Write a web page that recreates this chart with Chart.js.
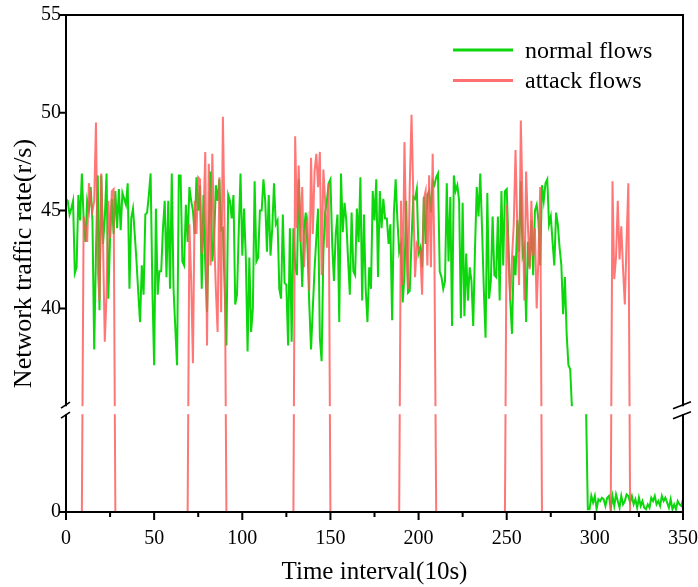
<!DOCTYPE html>
<html>
<head>
<meta charset="utf-8">
<title>Network traffic rate</title>
<script src="https://cdn.jsdelivr.net/npm/chart.js@4.4.0/dist/chart.umd.min.js"></script>
<style>
  html, body { margin: 0; padding: 0; background: #fff; }
  #wrap { width: 698px; height: 587px; position: relative; }
</style>
</head>
<body>
<div id="wrap"><canvas id="trafficChart"></canvas></div>
<script>
// Data (perkiraan), satu titik per interval waktu

// normal flows, x = 0..350 (null = di dalam patahan sumbu, tidak tampak)
const normalFlows = [
  45.6, 45.5, 44.8, 45.1, 45.5, 41.8, 42.1, 45.8, 44.5, 46.9,
  44.6, 43.4, 45.5, 45.0, 46.2, 44.5, 37.9, 42.9, 46.8, 39.9,
  46.8, 43.3, 44.6, 46.9, 40.5, 43.6, 45.6, 43.8, 46.0, 44.1,
  46.1, 44.0, 45.9, 45.6, 45.3, 46.4, 41.0, 44.6, 45.1, 43.8,
  42.4, 40.8, 39.3, 42.2, 40.7, 44.8, 44.9, 45.8, 46.9, 41.0,
  37.1, 45.1, 40.7, 41.9, 41.9, 44.1, 45.5, 41.6, 45.5, 41.0,
  46.9, 41.0, 39.0, 37.1, 46.8, 46.8, 42.4, 42.2, 45.3, 43.4,
  46.2, 45.5, 45.0, 43.8, 46.7, 45.0, 46.3, 41.0, 45.8, 42.2,
  39.8, 44.1, 47.0, 42.4, 43.4, 46.3, 45.5, 46.6, 44.0, 44.1,
  41.0, 38.1, 45.8, 45.5, 44.6, 45.8, 40.2, 40.7, 44.0, 46.9,
  42.7, 45.1, 42.6, 37.8, 42.6, 38.8, 40.0, 46.5, 42.4, 42.6,
  45.0, 45.0, 46.6, 45.5, 42.9, 45.8, 42.7, 44.1, 46.4, 44.3,
  44.5, 41.0, 40.5, 44.8, 41.3, 41.2, 38.1, 44.1, 38.3, 44.1,
  42.2, 41.7, 46.6, 43.7, 41.1, 44.0, 44.9, 43.1, 40.2, 37.9,
  40.0, 42.0, 43.6, 45.1, 38.5, 37.3, 42.9, 44.9, 45.5, 46.4,
  46.6, 43.3, 41.4, 43.8, 44.8, 39.3, 46.9, 43.9, 45.4, 44.5,
  42.5, 40.7, 44.9, 41.9, 41.7, 45.1, 43.4, 46.7, 40.4, 44.8,
  41.0, 39.3, 42.1, 41.0, 46.0, 44.5, 46.6, 41.6, 46.0, 44.1,
  45.6, 44.6, 44.6, 43.3, 44.3, 39.4, 44.9, 46.6, 44.5, 42.9,
  43.3, 40.3, 41.7, 45.5, 40.8, 40.9, 43.5, 45.7, 45.6, 46.1,
  42.8, 43.1, 42.1, 45.7, 43.3, 45.8, 46.0, 44.9, 46.5, 46.3,
  46.7, 46.9, 41.9, 41.6, 41.0, 41.4, 46.4, 42.4, 45.7, 39.1,
  46.8, 46.0, 46.3, 45.5, 39.5, 45.4, 39.6, 42.8, 40.4, 42.1,
  41.4, 39.1, 43.0, 46.2, 44.7, 46.9, 44.1, 41.0, 38.5, 45.9,
  40.5, 41.4, 44.7, 41.7, 41.6, 44.7, 40.4, 46.0, 42.2, 46.0,
  46.1, 43.3, 40.4, 38.7, 42.7, 41.7, 44.5, 42.9, 46.5, 42.7,
  43.1, 39.3, 43.4, 42.1, 44.5, 41.7, 45.0, 45.3, 44.5, 42.2,
  46.3, 45.5, 46.4, 46.6, 44.3, 44.7, 43.4, 42.2, 44.9, 44.3,
  43.1, 42.2, 39.7, 41.6, 38.7, 37.1, 36.9, 30.0, null, null,
  null, null, null, null, null, 30.0, 0.14, 0.14, 0.82, 0.48,
  0.82, 0.14, 0.65, 0.56, 0.73, 0.65, 0.31, 0.73, 0.82, 0.14,
  0.82, 0.31, 0.90, 0.56, 0.22, 0.82, 0.39, 0.56, 0.90, 0.82,
  0.48, 0.82, 0.39, 0.65, 0.22, 0.73, 0.31, 0.56, 0.22, 0.14,
  0.39, 0.22, 0.73, 0.56, 0.82, 0.39, 0.56, 0.31, 0.82, 0.56,
  0.73, 0.48, 0.22, 0.65, 0.14, 0.39, 0.14, 0.56, 0.39, 0.31,
  0.65
];

// attack flows: di luar jendela serangan nilainya 0
const attackStarts = [10, 70, 130, 190, 250, 310];
const attack1 = [44.7, 44.2, 43.4, 46.4, 45.5, 45.0, 45.5, 49.5, 42.0, 40.4, 46.9, 43.4, 38.3, 40.7, 45.5, 43.6, 46.0, 46.1];
const attack2 = [44.3, 41.5, 37.2, 45.5, 43.8, 46.7, 46.6, 42.8, 44.5, 48.0, 38.1, 47.4, 42.2, 47.9, 43.8, 41.0, 38.8, 46.7, 39.8, 49.8, 43.9];
const attack3 = [48.8, 44.1, 47.3, 43.4, 46.2, 42.1, 44.0, 44.5, 40.9, 47.7, 43.8, 47.0, 47.9, 46.2, 48.0, 41.7, 47.1, 45.5, 43.1, 46.4];
const attack4 = [45.5, 41.2, 48.5, 43.4, 41.0, 46.3, 49.9, 45.8, 41.6, 43.3, 43.1, 42.8, 40.7, 45.6, 46.0, 42.2, 46.8, 42.1, 47.9, 42.6];
const attack5 = [45.3, 42.5, 40.4, 42.6, 44.3, 48.1, 44.1, 41.2, 49.6, 45.3, 40.4, 47.0, 44.3, 42.0, 45.5, 42.7, 44.1, 40.0, 42.6, 46.2];
const attack6 = [46.5, 41.5, 42.6, 45.5, 42.5, 44.2, 42.0, 40.2, 43.5, 46.4];
const attackWindows = [attack1, attack2, attack3, attack4, attack5, attack6];

// sumbu
const xMax = 350;
const xTickStep = 50;
const yMax = 55;
const yTickValues = [0, 40, 45, 50, 55];
const BREAK_LOW = 5;    // bagian bawah 0..5
const BREAK_HIGH = 35;  // bagian atas 35..55
const GAP_PX = 8;

const seriesLabels = ['normal flows', 'attack flows'];
const GREEN = 'rgb(12, 214, 12)';
const RED = 'rgba(255, 88, 88, 0.82)';
const FONT = "'Liberation Serif', 'Times New Roman', serif";

// Skala linear dengan patahan (broken axis)
class BrokenLinearScale extends Chart.LinearScale {
  _unitPx() {
    const units = BREAK_LOW + (this.max - BREAK_HIGH);
    return (this.bottom - this.top - GAP_PX) / units;
  }
  getPixelForValue(value) {
    const s = this._unitPx();
    if (value <= BREAK_LOW) return this.bottom - value * s;
    const lowTop = this.bottom - BREAK_LOW * s;
    if (value < BREAK_HIGH) {
      return lowTop - (value - BREAK_LOW) / (BREAK_HIGH - BREAK_LOW) * GAP_PX;
    }
    return lowTop - GAP_PX - (value - BREAK_HIGH) * s;
  }
  getValueForPixel(pixel) {
    const s = this._unitPx();
    const lowTop = this.bottom - BREAK_LOW * s;
    const highBottom = lowTop - GAP_PX;
    if (pixel >= lowTop) return (this.bottom - pixel) / s;
    if (pixel > highBottom) {
      return BREAK_LOW + (lowTop - pixel) / GAP_PX * (BREAK_HIGH - BREAK_LOW);
    }
    return BREAK_HIGH + (highBottom - pixel) / s;
  }
}
BrokenLinearScale.id = 'brokenLinear';
BrokenLinearScale.defaults = Chart.LinearScale.defaults;
Chart.register(BrokenLinearScale);

// Susun titik-titik data
const normalPoints = normalFlows.map((v, i) => ({ x: i, y: v }));

const attackPoints = [{ x: 0, y: 0 }];
attackWindows.forEach((vals, w) => {
  const start = attackStarts[w];
  attackPoints.push({ x: start - 1, y: 0 });
  vals.forEach((v, i) => attackPoints.push({ x: start + i, y: v }));
  attackPoints.push({ x: start + vals.length, y: 0 });
});
attackPoints.push({ x: xMax, y: 0 });

// Plugin: patahan sumbu, bingkai, tick, legenda
const frameAndLegendPlugin = {
  id: 'frameAndLegend',
  afterDraw(chart) {
    const ctx = chart.ctx;
    const area = chart.chartArea;
    const xs = chart.scales.x;
    const ys = chart.scales.y;
    const gapTop = ys.getPixelForValue(BREAK_HIGH);
    const gapBottom = ys.getPixelForValue(BREAK_LOW);

    ctx.save();
    // kosongkan celah patahan
    ctx.fillStyle = '#fff';
    ctx.fillRect(area.left - 2, gapTop, area.width + 4, gapBottom - gapTop);

    // bingkai
    ctx.strokeStyle = '#000';
    ctx.lineWidth = 2;
    ctx.lineJoin = 'miter';
    ctx.beginPath();
    ctx.moveTo(area.left, gapTop);
    ctx.lineTo(area.left, area.top);
    ctx.lineTo(area.right, area.top);
    ctx.lineTo(area.right, gapTop);
    ctx.moveTo(area.left, gapBottom);
    ctx.lineTo(area.left, area.bottom);
    ctx.lineTo(area.right, area.bottom);
    ctx.lineTo(area.right, gapBottom);
    ctx.stroke();

    // tick sumbu x (mayor + minor)
    ctx.beginPath();
    for (let v = 0; v <= xMax; v += xTickStep / 2) {
      const px = xs.getPixelForValue(v);
      const len = v % xTickStep === 0 ? 8 : 5;
      ctx.moveTo(px, area.bottom);
      ctx.lineTo(px, area.bottom + len);
    }
    // tick sumbu y
    ys.ticks.forEach(t => {
      const py = ys.getPixelForValue(t.value);
      ctx.moveTo(area.left, py);
      ctx.lineTo(area.left - 6, py);
    });
    ctx.stroke();

    // tanda patahan
    ctx.lineWidth = 1.6;
    ctx.beginPath();
    [gapTop - 1, gapBottom + 1].forEach(y0 => {
      ctx.moveTo(area.left - 5, y0 + 3);
      ctx.lineTo(area.left + 4, y0 - 3);
      ctx.moveTo(area.right - 10, y0 + 3.5);
      ctx.lineTo(area.right + 8, y0 - 3.5);
    });
    ctx.stroke();

    // legenda
    const colors = [GREEN, 'rgb(255, 112, 112)'];
    ctx.font = '24px ' + FONT;
    ctx.fillStyle = '#000';
    ctx.textBaseline = 'alphabetic';
    ctx.textAlign = 'left';
    seriesLabels.forEach((label, i) => {
      const yLine = 50 + i * 30.5;
      ctx.strokeStyle = colors[i];
      ctx.lineWidth = 3;
      ctx.beginPath();
      ctx.moveTo(453, yLine);
      ctx.lineTo(513, yLine);
      ctx.stroke();
      ctx.fillText(label, 525, yLine + 7.5);
    });
    ctx.restore();
  }
};

const ctx = document.getElementById('trafficChart').getContext('2d');
window.trafficChart = new Chart(ctx, {
  type: 'line',
  data: {
    datasets: [
      {
        label: seriesLabels[1],
        data: attackPoints,
        borderColor: RED,
        borderWidth: 2,
        pointRadius: 0,
        tension: 0,
        fill: false
      },
      {
        label: seriesLabels[0],
        data: normalPoints,
        borderColor: GREEN,
        borderWidth: 2,
        pointRadius: 0,
        tension: 0,
        fill: false,
        spanGaps: false
      }
    ]
  },
  options: {
    responsive: true,
    maintainAspectRatio: false,
    animation: false,
    events: [],
    layout: { padding: { left: 0, top: 15, right: 0, bottom: 0 } },
    plugins: {
      legend: { display: false },
      tooltip: { enabled: false }
    },
    scales: {
      x: {
        type: 'linear',
        min: 0,
        max: xMax,
        grid: { display: false, drawTicks: false },
        border: { display: false },
        ticks: {
          stepSize: xTickStep,
          autoSkip: false,
          maxRotation: 0,
          padding: 15,
          color: '#000',
          font: { family: FONT, size: 20 }
        },
        title: {
          display: true,
          text: 'Time interval(10s)',
          color: '#000',
          padding: { top: 0, bottom: 0 },
          font: { family: FONT, size: 25 }
        },
        afterFit(scale) {
          scale.height = 75;
          scale.paddingLeft = 0;
          scale.paddingRight = 15;
        }
      },
      y: {
        type: 'brokenLinear',
        min: 0,
        max: yMax,
        grid: { display: false, drawTicks: false },
        border: { display: false },
        afterBuildTicks(scale) {
          scale.ticks = yTickValues.map(v => ({ value: v }));
        },
        ticks: {
          autoSkip: false,
          padding: 5,
          color: '#000',
          font: { family: FONT, size: 20 }
        },
        title: {
          display: true,
          text: 'Network traffic rate(r/s)',
          color: '#000',
          padding: { top: 9, bottom: 0 },
          font: { family: FONT, size: 26 }
        },
        afterFit(scale) {
          scale.width = 66;
          scale.paddingTop = 0;
          scale.paddingBottom = 0;
        }
      }
    }
  },
  plugins: [frameAndLegendPlugin]
});
</script>
</body>
</html>
